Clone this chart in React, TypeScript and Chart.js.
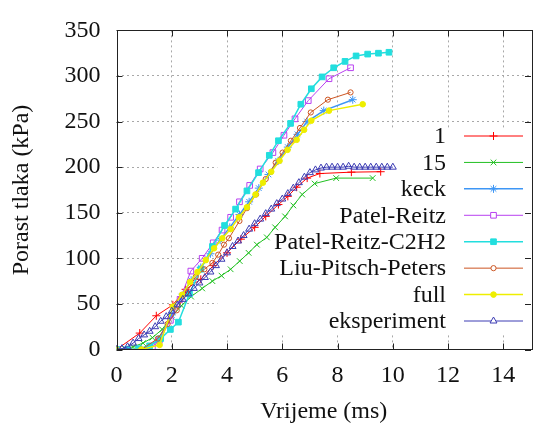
import { useEffect, useRef } from "react";
import { Chart, registerables } from "chart.js";
import { drawPoint } from "chart.js/helpers";

Chart.register(...registerables);

const X_TICKS = [0, 2, 4, 6, 8, 10, 12, 14];
const Y_TICKS = [0, 50, 100, 150, 200, 250, 300, 350];

const LABELS = ["1", "15", "keck", "Patel-Reitz", "Patel-Reitz-C2H2", "Liu-Pitsch-Peters", "full", "eksperiment"];

const s1X = [0, 0.84, 1.44, 2.04, 2.5, 3.05, 3.5, 4.0, 4.5, 5.0, 5.4, 5.86, 6.2, 6.52, 6.9, 7.36, 8.5, 9.56];
const s1Y = [0, 18, 37, 49, 66, 77, 92, 106, 121, 134, 146, 159, 168, 178, 188, 193, 194.5, 195];

const s15X = [0, 0.3, 0.6, 0.96, 1.3, 1.65, 2.0, 2.35, 2.7, 3.1, 3.47, 3.8, 4.13, 4.46, 4.78, 5.08, 5.44, 5.74, 6.1, 6.4, 6.72, 7.17, 7.95, 9.27];
const s15Y = [0, 1, 3, 7, 13, 22, 36, 48, 58, 67, 75, 81, 88, 97, 106, 115, 123, 134, 146, 158, 170, 182, 188, 188];

const keckX = [0, 0.9, 1.5, 2.0, 2.35, 2.7, 3.05, 3.4, 3.75, 4.1, 4.45, 4.8, 5.15, 5.5, 5.85, 6.2, 6.55, 6.9, 7.5, 8.55];
const keckY = [0, 0, 10, 38, 58, 76, 90, 105, 120, 134, 148, 162, 177, 192, 207, 222, 236, 250, 262, 274];

const prX = [0, 0.8, 1.3, 1.55, 1.95, 2.3, 2.69, 3.1, 3.5, 3.82, 4.13, 4.45, 4.82, 5.2, 5.66, 6.06, 6.46, 6.94, 7.69, 8.47];
const prY = [0, 0, 3, 10, 32, 55, 86, 100, 117, 131, 145, 162, 180, 198, 216, 235, 253, 273, 297, 309];

const c2h2X = [0, 0.4, 0.8, 1.2, 1.6, 1.95, 2.24, 2.64, 3.05, 3.47, 3.91, 4.31, 4.72, 5.14, 5.53, 5.86, 6.3, 6.67, 7.05, 7.44, 7.86, 8.27, 8.67, 9.09, 9.48, 9.86];
const c2h2Y = [0, 0, 1, 4, 12, 22, 30, 61, 88, 113, 136, 154, 174, 194, 213, 229, 248, 269, 286, 299, 309, 316, 322, 324, 325, 326];

const lppX = [0, 0.9, 1.5, 1.85, 2.18, 2.52, 2.87, 3.18, 3.47, 3.68, 3.89, 4.07, 4.45, 4.72, 5.05, 5.4, 5.76, 6.01, 6.31, 6.64, 7.03, 7.65, 8.47];
const lppY = [0, 0, 12, 28, 43, 62, 80, 88, 95, 104, 115, 122, 141, 155, 170, 187, 205, 216, 229, 243, 260, 274, 282];

const fullX = [0, 0.9, 1.56, 2.04, 2.37, 2.66, 2.93, 3.23, 3.53, 3.83, 4.13, 4.43, 4.72, 5.03, 5.3, 5.6, 5.9, 6.19, 6.52, 6.79, 7.05, 7.69, 8.91];
const fullY = [0, 0, 5, 47, 60, 74, 85, 98, 111, 122, 132, 145, 156, 170, 183, 195, 207, 219, 230, 241, 251, 262, 269];

const eksX = [0, 0.2, 0.4, 0.6, 0.8, 1.0, 1.2, 1.4, 1.6, 1.8, 2.0, 2.2, 2.4, 2.6, 2.8, 3.0, 3.2, 3.4, 3.6, 3.8, 4.0, 4.2, 4.4, 4.6, 4.8, 5.0, 5.2, 5.4, 5.6, 5.8, 6.0, 6.2, 6.4, 6.6, 6.8, 7.0, 7.2, 7.4, 7.6, 7.8, 8.0, 8.2, 8.4, 8.6, 8.8, 9.0, 9.2, 9.4, 9.6, 9.8, 10.0];
const eksY = [0, 1, 3, 7, 12, 16, 20, 25, 31, 36, 42, 49, 55, 61, 67, 73, 79, 85, 92, 99, 106, 113, 119, 125, 132, 138, 143, 149, 154, 160, 165, 171, 177, 183, 189, 194, 197, 199, 200, 200, 200, 200, 201, 200, 200, 200, 200, 200, 200, 200, 200];

const SERIES_X = [s1X, s15X, keckX, prX, c2h2X, lppX, fullX, eksX];
const SERIES_Y = [s1Y, s15Y, keckY, prY, c2h2Y, lppY, fullY, eksY];

const COLORS = ["#ff0000", "#22c022", "#3d96f5", "#b840f0", "#22dede", "#cc5522", "#eeee00", "#3c3cb4"];
const STYLES = ["cross", "crossRot", "star", "rect", "rect", "circle", "circle", "triangle"];
const RADII = [4, 4, 4, 4, 4, 2.6, 2.8, 4];
const FILLED = [false, false, false, false, true, false, true, false];
const WIDTHS = [1, 1, 1.5, 1, 1.5, 1, 1.5, 1];

const FONT = '"Liberation Serif"';
const BOX = { x0: 3.65, y0: 17.5, y1: 243 };

const framePlugin = {
  id: "gnuframe",
  beforeDatasetsDraw(chart: any) {
    const { ctx, chartArea, scales } = chart;
    const l = scales.x.getPixelForValue(BOX.x0);
    const t = scales.y.getPixelForValue(BOX.y1);
    const b = scales.y.getPixelForValue(BOX.y0);
    ctx.save();
    ctx.fillStyle = "#ffffff";
    ctx.fillRect(l, t, chartArea.right - l + 2, b - t);
    ctx.restore();
  },
  afterDatasetsDraw(chart: any) {
    const { ctx, chartArea, scales } = chart;
    const { left, right, top, bottom } = chartArea;
    ctx.save();
    ctx.strokeStyle = "#222222";
    ctx.lineWidth = 1;
    ctx.setLineDash([]);
    ctx.beginPath();
    const tl = 6;
    for (const v of X_TICKS) {
      const px = Math.round(scales.x.getPixelForValue(v)) + 0.5;
      ctx.moveTo(px, bottom);
      ctx.lineTo(px, bottom - tl);
      ctx.moveTo(px, top);
      ctx.lineTo(px, top + tl);
    }
    for (const v of Y_TICKS) {
      const py = Math.round(scales.y.getPixelForValue(v)) + 0.5;
      ctx.moveTo(left, py);
      ctx.lineTo(left + tl, py);
      ctx.moveTo(right, py);
      ctx.lineTo(right - tl, py);
    }
    ctx.stroke();
    ctx.strokeRect(Math.round(left) + 0.5, Math.round(top) + 0.5, Math.round(right - left), Math.round(bottom - top));

    // legend
    const y0 = 136;
    const step = 26.43;
    ctx.font = `24px ${FONT}`;
    ctx.textAlign = "right";
    ctx.textBaseline = "middle";
    LABELS.forEach((lab, i) => {
      const y = y0 + i * step;
      ctx.fillStyle = "#111111";
      ctx.fillText(lab, 446, y + 1);
      ctx.strokeStyle = COLORS[i];
      ctx.lineWidth = WIDTHS[i];
      ctx.beginPath();
      ctx.moveTo(464, y);
      ctx.lineTo(523, y);
      ctx.stroke();
      ctx.lineWidth = 1;
      ctx.fillStyle = FILLED[i] ? COLORS[i] : "#ffffff";
      drawPoint(ctx, { pointStyle: STYLES[i] as any, radius: RADII[i], rotation: 0, borderWidth: 1 } as any, 493.5, y);
    });
    ctx.restore();
  },
};

export default function App() {
  const ref = useRef<HTMLCanvasElement | null>(null);
  useEffect(() => {
    document.body.style.margin = "0";
    const canvas = ref.current!;
    let chart: any = null;
    let cancelled = false;
    const build = () => {
      if (cancelled) return;
      const datasets = LABELS.map((lab, i) => ({
        label: lab,
        data: SERIES_X[i].map((x, j) => ({ x, y: SERIES_Y[i][j] })),
        borderColor: COLORS[i],
        backgroundColor: COLORS[i],
        borderWidth: WIDTHS[i],
        pointStyle: STYLES[i] as any,
        pointRadius: RADII[i],
        pointBorderWidth: 1,
        pointBorderColor: COLORS[i],
        pointBackgroundColor: FILLED[i] ? COLORS[i] : "rgba(0,0,0,0)",
        showLine: true,
        tension: 0,
        order: 7 - i,
      }));
      chart = new Chart(canvas, {
        type: "scatter",
        data: { datasets },
        options: {
          animation: false,
          responsive: false,
          layout: { padding: { left: 0, top: 20, right: 1, bottom: 0 } },
          plugins: { legend: { display: false }, tooltip: { enabled: false } },
          scales: {
            x: {
              type: "linear",
              min: 0,
              max: 15,
              afterBuildTicks: (s: any) => {
                s.ticks = X_TICKS.map((v) => ({ value: v }));
              },
              afterFit: (s: any) => {
                s.height = 80.5;
              },
              grid: {
                color: (c: any) => (c.tick && c.tick.value === 0 ? "rgba(0,0,0,0)" : "#a8a8a8"),
                lineWidth: 1,
                drawTicks: false,
              },
              border: { display: false, dash: [2, 3] },
              ticks: {
                padding: 12,
                color: "#111111",
                maxRotation: 0,
                autoSkip: false,
                font: { family: FONT, size: 24 },
              },
              title: {
                display: true,
                text: "Vrijeme (ms)",
                color: "#111111",
                font: { family: FONT, size: 24 },
                padding: { top: 0, bottom: 3.6 },
              },
            },
            y: {
              type: "linear",
              min: 0,
              max: 350,
              afterBuildTicks: (s: any) => {
                s.ticks = Y_TICKS.map((v) => ({ value: v }));
              },
              afterFit: (s: any) => {
                s.width = 116.5;
              },
              grid: {
                color: (c: any) => (c.tick && (c.tick.value === 0 || c.tick.value === 350) ? "rgba(0,0,0,0)" : "#a8a8a8"),
                lineWidth: 1,
                drawTicks: false,
              },
              border: { display: false, dash: [2, 3] },
              ticks: {
                padding: 16,
                color: "#111111",
                autoSkip: false,
                font: { family: FONT, size: 24 },
              },
              title: {
                display: true,
                text: "Porast tlaka (kPa)",
                color: "#111111",
                font: { family: FONT, size: 24 },
                padding: { top: 7.6, bottom: 0 },
              },
            },
          },
        },
        plugins: [framePlugin],
      } as any);
    };
    const fonts: any = (document as any).fonts;
    if (fonts && fonts.load) {
      fonts.load('24px "Liberation Serif"').then(build, build);
    } else {
      build();
    }
    return () => {
      cancelled = true;
      if (chart) chart.destroy();
    };
  }, []);
  return <canvas ref={ref} width={536} height={430} style={{ display: "block" }} />;
}
